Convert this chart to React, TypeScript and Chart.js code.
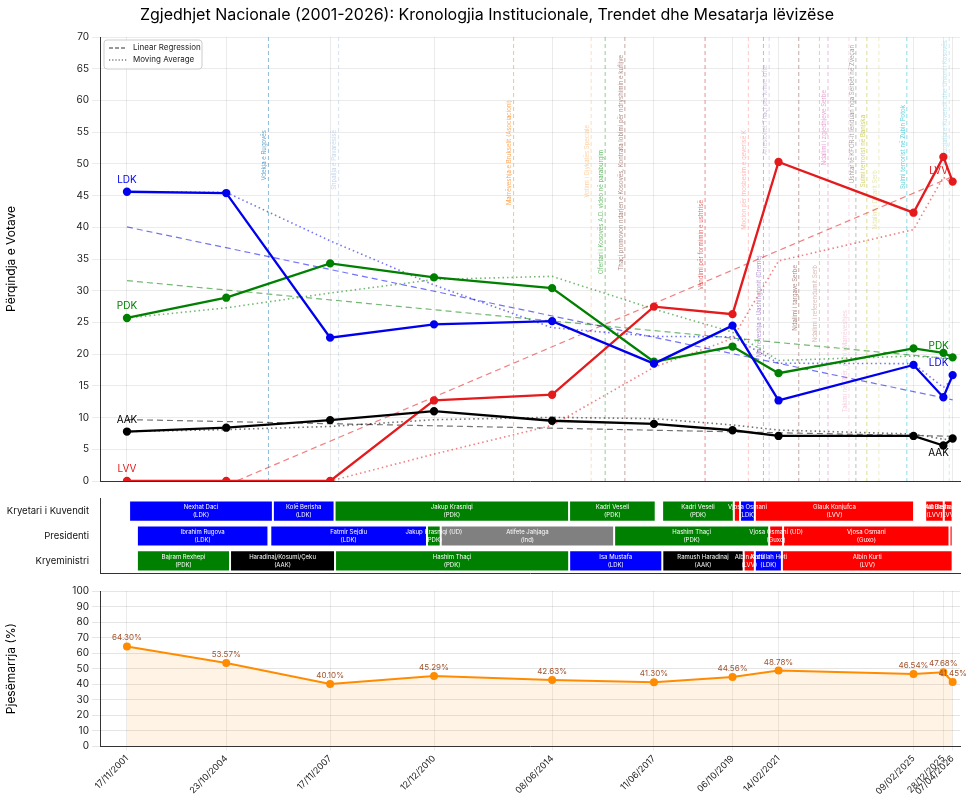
import React, { useEffect, useRef } from "react";
import { Chart, registerables } from "chart.js";
Chart.register(...registerables);

const FONT = "Inter, 'Noto Sans', sans-serif";
const dy = (d: number, m: number, y: number) => {
  const t = Date.UTC(y, m - 1, d), s = Date.UTC(y, 0, 1), e = Date.UTC(y + 1, 0, 1);
  return y + (t - s) / (e - s);
};

const electionDates = ["17/11/2001", "23/10/2004", "17/11/2007", "12/12/2010", "08/06/2014", "11/06/2017", "06/10/2019", "14/02/2021", "09/02/2025", "28/12/2025", "07/04/2026"];
const xs = electionDates.map((s) => { const [d, m, y] = s.split("/").map(Number); return dy(d, m, y); });
const LDK = [45.6, 45.4, 22.6, 24.7, 25.2, 18.5, 24.5, 12.7, 18.3, 13.2, 16.7];
const PDK = [25.7, 28.9, 34.3, 32.1, 30.4, 18.8, 21.2, 17.0, 20.9, 20.2, 19.5];
const AAK = [7.8, 8.4, 9.6, 11.0, 9.5, 9.0, 8.0, 7.1, 7.1, 5.6, 6.7];
const LVV = [0, 0, 0, 12.7, 13.6, 27.5, 26.3, 50.3, 42.3, 51.1, 47.2];
const turnout = [64.30, 53.57, 40.10, 45.29, 42.63, 41.30, 44.56, 48.78, 46.54, 47.68, 41.45];
const parties = [
  { name: "LDK", vals: LDK, color: "#0000ee" },
  { name: "PDK", vals: PDK, color: "#008000" },
  { name: "AAK", vals: AAK, color: "#000000" },
  { name: "LVV", vals: LVV, color: "#e41a1c" },
];

const events: [string, string][] = [
  ["21/01/2006", "Vdekja e Rugovës"],
  ["17/02/2008", "Shpallja e Pavarësisë"],
  ["19/04/2013", "Marrëveshja e Brukselit (Asociacioni)"],
  ["03/08/2015", "Votimi i Gjykatës Speciale"],
  ["01/01/2016", "Ofertari i Kosovës A.D. video në paraburgim"],
  ["01/08/2016", "Thaçi promovon ndarjen e Kosovës, Kontrata lobimi për ndryshimin e kufijve"],
  ["14/12/2018", "Vendimi për formimin e ushtrisë"],
  ["25/03/2020", "Mocion për mosbesim e qeverisë K"],
  ["04/09/2020", "Marrëveshja e Uashingtonit (Dreme)"],
  ["05/11/2020", "Arrestohet Thaçi për krime lufte"],
  ["20/09/2021", "Ndalimi i targave Serbe"],
  ["01/05/2022", "Ndalimi i referendumit Serb"],
  ["01/08/2022", "Ndalimi i zgjedhjeve Serbe"],
  ["15/03/2023", "Takimi në Ohër, plani i Marrëveshjes"],
  ["29/05/2023", "Ushtar të KFOR-it lënduan nga Serbët në Zveçan"],
  ["24/09/2023", "Sulmi terrorist në Banjska"],
  ["01/02/2024", "Ndalimi i Dinarit Serb"],
  ["29/11/2024", "Sulmi terrorist në Zubin Potok"],
  ["01/03/2026", "Kohëzgjatja e Kuvendit dhe Unioni i Kosovës"],
];
const eventColors = ["#1f77b4", "#aec7e8", "#ff7f0e", "#ffbb78", "#2ca02c", "#8c564b", "#d62728", "#ff9896", "#9467bd", "#c5b0d5", "#8c564b", "#c49c94", "#e377c2", "#f7b6d2", "#7f7f7f", "#bcbd22", "#dbdb8d", "#17becf", "#9edae5"];
const eventTop = [130, 130, 100, 125, 150, 55, 200, 130, 255, 65, 265, 265, 90, 310, 45, 115, 170, 105, 40];

const rows = ["Kryetari i Kuvendit", "Presidenti", "Kryeministri"];
const terms: [number, string, string, string, string, string][] = [
  [0, "10/12/2001", "10/03/2006", "Nexhat Daci", "LDK", "#0000ff"],
  [0, "10/03/2006", "04/01/2008", "Kolë Berisha", "LDK", "#0000ff"],
  [0, "04/01/2008", "08/12/2014", "Jakup Krasniqi", "PDK", "#008000"],
  [0, "08/12/2014", "30/06/2017", "Kadri Veseli", "PDK", "#008000"],
  [0, "07/09/2017", "20/10/2019", "Kadri Veseli", "PDK", "#008000"],
  [0, "20/10/2019", "26/12/2019", "", "", "#ff0000"],
  [0, "26/12/2019", "03/06/2020", "Vjosa Osmani", "LDK", "#0000ff"],
  [0, "03/06/2020", "15/02/2025", "Glauk Konjufca", "LVV", "#ff0000"],
  [0, "15/06/2025", "01/01/2026", "Dimal Basha", "LVV", "#ff0000"],
  [0, "01/01/2026", "07/04/2026", "Albulena Haxhiu", "LVV", "#ff0000"],
  [1, "04/03/2002", "21/01/2006", "Ibrahim Rugova", "LDK", "#0000ff"],
  [1, "10/02/2006", "27/09/2010", "Fatmir Sejdiu", "LDK", "#0000ff"],
  [1, "27/09/2010", "22/02/2011", "Jakup Krasniqi (UD)", "PDK", "#008000"],
  [1, "22/02/2011", "07/04/2016", "Atifete Jahjaga", "Ind", "#808080"],
  [1, "07/04/2016", "05/11/2020", "Hashim Thaçi", "PDK", "#008000"],
  [1, "05/11/2020", "04/04/2021", "Vjosa Osmani (UD)", "Guxo", "#ff0000"],
  [1, "04/04/2021", "04/03/2026", "Vjosa Osmani", "Guxo", "#ff0000"],
  [1, "04/03/2026", "07/04/2026", "", "", "#ff0000"],
  [2, "04/03/2002", "03/12/2004", "Bajram Rexhepi", "PDK", "#008000"],
  [2, "03/12/2004", "09/01/2008", "Haradinaj/Kosumi/Çeku", "AAK", "#000000"],
  [2, "09/01/2008", "09/12/2014", "Hashim Thaçi", "PDK", "#008000"],
  [2, "09/12/2014", "09/09/2017", "Isa Mustafa", "LDK", "#0000ff"],
  [2, "09/09/2017", "03/02/2020", "Ramush Haradinaj", "AAK", "#000000"],
  [2, "03/02/2020", "03/06/2020", "Albin Kurti", "LVV", "#ff0000"],
  [2, "03/06/2020", "22/03/2021", "Avdullah Hoti", "LDK", "#0000ff"],
  [2, "22/03/2021", "07/04/2026", "Albin Kurti", "LVV", "#ff0000"],
];

const pd = (s: string) => { const [d, m, y] = s.split("/").map(Number); return dy(d, m, y); };
const XMIN = 2001.08, XMAX = 2026.48;

function regression(v: number[]) {
  const n = v.length, mx = xs.reduce((a, b) => a + b) / n, my = v.reduce((a, b) => a + b) / n;
  let sxy = 0, sxx = 0;
  v.forEach((y, i) => { sxy += (xs[i] - mx) * (y - my); sxx += (xs[i] - mx) ** 2; });
  const b = sxy / sxx, a = my - b * mx;
  return [{ x: xs[0], y: a + b * xs[0] }, { x: xs[n - 1], y: a + b * xs[n - 1] }];
}
function movingAvg(v: number[]) {
  return v.map((_, i) => { const w = v.slice(Math.max(0, i - 2), i + 1); return { x: xs[i], y: w.reduce((a, b) => a + b) / w.length }; });
}
const alpha = (hex: string, a: number) => {
  const n = parseInt(hex.slice(1), 16);
  return `rgba(${n >> 16},${(n >> 8) & 255},${n & 255},${a})`;
};
const yAxisFit = (w: number) => (s: any) => { s.width = w; };

const xScaleBase = (showTicks: boolean) => ({
  type: "linear" as const, min: XMIN, max: XMAX,
  afterBuildTicks: (s: any) => { s.ticks = xs.map((v) => ({ value: v })); },
  grid: { color: "rgba(0,0,0,0.08)", drawTicks: true, tickLength: 4 },
  ticks: {
    display: showTicks, autoSkip: false, minRotation: 45, maxRotation: 45,
    font: { family: FONT, size: 9 }, color: "#222",
    callback: (v: any) => { const i = xs.findIndex((x) => Math.abs(x - v) < 1e-6); return i >= 0 ? electionDates[i] : ""; },
  },
  border: { color: "#333" },
});

export default function App() {
  const r1 = useRef<HTMLCanvasElement>(null), r2 = useRef<HTMLCanvasElement>(null), r3 = useRef<HTMLCanvasElement>(null);
  useEffect(() => {
    const datasets: any[] = [];
    parties.forEach((p) => {
      datasets.push({ data: p.vals.map((y, i) => ({ x: xs[i], y })), borderColor: p.color, backgroundColor: p.color, borderWidth: 2.3, pointRadius: 3, order: 1 });
      datasets.push({ data: regression(p.vals), borderColor: alpha(p.color, 0.55), borderWidth: 1.2, borderDash: [6, 4], pointRadius: 0, order: 2 });
      datasets.push({ data: movingAvg(p.vals), borderColor: alpha(p.color, 0.55), borderWidth: 1.6, borderDash: [1.5, 3], pointRadius: 0, order: 2 });
    });
    const topPlugin = {
      id: "topdeco",
      beforeDatasetsDraw(c: any) {
        const { ctx, chartArea: a, scales } = c;
        ctx.save();
        events.forEach(([d, t], i) => {
          const x = scales.x.getPixelForValue(pd(d));
          const col = eventColors[i % eventColors.length];
          ctx.strokeStyle = alpha(col, 0.5); ctx.lineWidth = 1; ctx.setLineDash([4, 3]);
          ctx.beginPath(); ctx.moveTo(x, a.top); ctx.lineTo(x, a.bottom); ctx.stroke();
          ctx.setLineDash([]);
          ctx.save(); ctx.translate(x - 1, eventTop[i]); ctx.rotate(-Math.PI / 2);
          ctx.fillStyle = alpha(col, 0.7); ctx.font = `6px ${FONT}`; ctx.textAlign = "right"; ctx.textBaseline = "bottom";
          ctx.fillText(t, 0, 0); ctx.restore();
        });
        ctx.restore();
      },
      afterDraw(c: any) {
        const { ctx, chartArea: a, scales } = c;
        ctx.save();
        ctx.fillStyle = "#000"; ctx.font = `16px ${FONT}`; ctx.textAlign = "center"; ctx.textBaseline = "middle";
        ctx.fillText("Zgjedhjet Nacionale (2001-2026): Kronologjia Institucionale, Trendet dhe Mesatarja lëvizëse", 487, 15);
        ctx.fillStyle = "rgba(255,255,255,0.85)"; ctx.strokeStyle = "#ccc"; ctx.lineWidth = 1;
        ctx.beginPath(); ctx.roundRect(a.left + 4, a.top + 3, 98, 29, 3); ctx.fill(); ctx.stroke();
        ctx.strokeStyle = "#333"; ctx.lineWidth = 1.2;
        ctx.setLineDash([4, 2]); ctx.beginPath(); ctx.moveTo(a.left + 9, a.top + 11); ctx.lineTo(a.left + 27, a.top + 11); ctx.stroke();
        ctx.setLineDash([1.2, 2]); ctx.beginPath(); ctx.moveTo(a.left + 9, a.top + 23); ctx.lineTo(a.left + 27, a.top + 23); ctx.stroke();
        ctx.setLineDash([]);
        ctx.fillStyle = "#222"; ctx.font = `8px ${FONT}`; ctx.textAlign = "left";
        ctx.fillText("Linear Regression", a.left + 33, a.top + 11);
        ctx.fillText("Moving Average", a.left + 33, a.top + 23);
        ctx.font = `10px ${FONT}`; ctx.textAlign = "center";
        const endOff: Record<string, number> = { LDK: -12, PDK: -11, AAK: 14, LVV: -11 };
        parties.forEach((p) => {
          ctx.fillStyle = p.color;
          const x0 = scales.x.getPixelForValue(xs[0]), y0 = scales.y.getPixelForValue(p.vals[0]);
          ctx.fillText(p.name, x0, y0 - 12);
          const n = xs.length - 1;
          const x1 = scales.x.getPixelForValue(xs[n]) - 14, y1 = scales.y.getPixelForValue(p.vals[n]) + endOff[p.name];
          ctx.fillText(p.name, x1, y1);
        });
        ctx.restore();
      },
    };
    const c1 = new Chart(r1.current!, {
      type: "line", data: { datasets }, plugins: [topPlugin],
      options: {
        animation: false, responsive: false, maintainAspectRatio: false,
        layout: { padding: { top: 37, right: 15, bottom: 2, left: 0 } },
        plugins: { legend: { display: false }, tooltip: { enabled: false } },
        scales: {
          x: { ...xScaleBase(false), grid: { color: "rgba(0,0,0,0.08)", drawTicks: false } } as any,
          y: {
            min: 0, max: 70, afterFit: yAxisFit(100),
            ticks: { stepSize: 5, font: { family: FONT, size: 10 }, color: "#222" },
            grid: { color: "rgba(0,0,0,0.08)" }, border: { color: "#333" },
            title: { display: true, text: "Përqindja e Votave", font: { family: FONT, size: 12 }, color: "#000" },
          },
        },
      },
    });

    const barPlugin = {
      id: "barlabels",
      afterDatasetsDraw(c: any) {
        const { ctx } = c;
        const meta = c.getDatasetMeta(0);
        ctx.save(); ctx.fillStyle = "#fff"; ctx.font = `6px ${FONT}`; ctx.textAlign = "center"; ctx.textBaseline = "middle";
        meta.data.forEach((el: any, i: number) => {
          const t = terms[i]; if (!t[3]) return;
          const cx = (el.x + el.base) / 2;
          ctx.fillText(t[3], cx, el.y - 4); ctx.fillText(`(${t[4]})`, cx, el.y + 4);
        });
        ctx.restore();
      },
    };
    const c2 = new Chart(r2.current!, {
      type: "bar", plugins: [barPlugin],
      data: {
        labels: rows,
        datasets: [{
          data: terms.map((t) => ({ y: rows[t[0]], x: [pd(t[1]), pd(t[2])] })) as any,
          backgroundColor: terms.map((t) => t[5]), borderColor: "rgba(255,255,255,0.9)", borderWidth: 1, borderSkipped: false,
          barPercentage: 0.85, categoryPercentage: 1, grouped: false,
        }],
      },
      options: {
        indexAxis: "y", animation: false, responsive: false, maintainAspectRatio: false,
        layout: { padding: { top: 4, right: 15, bottom: 0, left: 0 } },
        plugins: { legend: { display: false }, tooltip: { enabled: false } },
        scales: {
          x: { ...xScaleBase(false), grid: { display: false, drawTicks: true, tickLength: 4 } } as any,
          y: {
            afterFit: yAxisFit(100), grid: { display: false }, border: { color: "#333" },
            ticks: { font: { family: FONT, size: 9.5 }, color: "#111", padding: 3 },
          },
        },
      },
    });

    const turnPlugin = {
      id: "turnlabels",
      afterDatasetsDraw(c: any) {
        const { ctx } = c; const meta = c.getDatasetMeta(0);
        ctx.save(); ctx.fillStyle = "#a0522d"; ctx.font = `8px ${FONT}`; ctx.textAlign = "center";
        meta.data.forEach((el: any, i: number) => ctx.fillText(turnout[i].toFixed(2) + "%", el.x, el.y - 6));
        ctx.restore();
      },
    };
    const c3 = new Chart(r3.current!, {
      type: "line", plugins: [turnPlugin],
      data: {
        datasets: [{
          data: turnout.map((y, i) => ({ x: xs[i], y })), borderColor: "#ff8c00", backgroundColor: "#ff8c00",
          borderWidth: 2, pointRadius: 3, fill: { target: "origin", above: "rgba(255,140,0,0.1)" },
        }],
      },
      options: {
        animation: false, responsive: false, maintainAspectRatio: false,
        layout: { padding: { top: 6, right: 15, bottom: 0, left: 0 } },
        plugins: { legend: { display: false }, tooltip: { enabled: false } },
        scales: {
          x: xScaleBase(true) as any,
          y: {
            min: 0, max: 100, afterFit: yAxisFit(100),
            ticks: { stepSize: 10, font: { family: FONT, size: 10 }, color: "#222" },
            grid: { color: "rgba(0,0,0,0.1)" }, border: { color: "#333" },
            title: { display: true, text: "Pjesëmarrja (%)", font: { family: FONT, size: 12 }, color: "#000" },
          },
        },
      },
    });
    return () => { c1.destroy(); c2.destroy(); c3.destroy(); };
  }, []);
  return (
    <div style={{ position: "absolute", left: 0, top: 0, width: 975, height: 800, background: "#fff" }}>
      <canvas ref={r1} width={975} height={490} style={{ position: "absolute", left: 0, top: 0 }} />
      <canvas ref={r2} width={975} height={92} style={{ position: "absolute", left: 0, top: 490 }} />
      <canvas ref={r3} width={975} height={218} style={{ position: "absolute", left: 0, top: 582 }} />
    </div>
  );
}
